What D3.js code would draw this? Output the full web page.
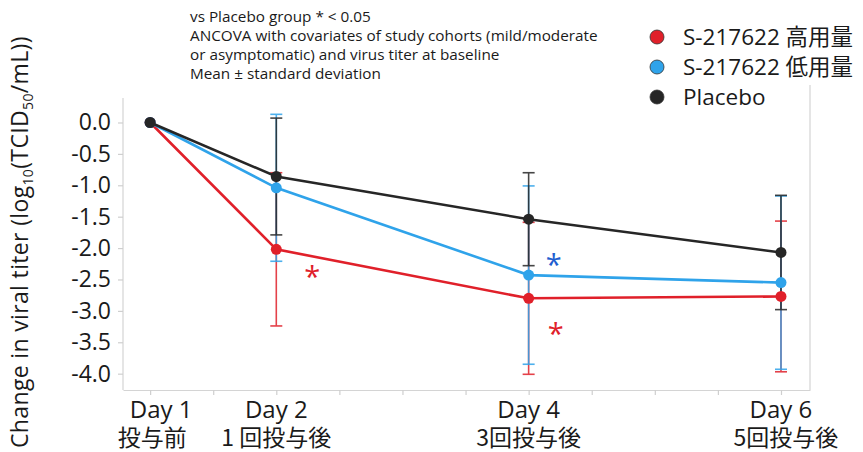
<!DOCTYPE html>
<html>
<head>
<meta charset="utf-8">
<script src="https://cdn.jsdelivr.net/npm/d3@7/dist/d3.min.js"></script>
<style>
  html, body { margin: 0; padding: 0; background: #fff; }
  svg { display: block; font-family: "Open Sans", "Noto Sans", "Noto Sans CJK JP", sans-serif; }
</style>
</head>
<body>
<svg id="chart" width="863" height="452"></svg>
<script>
// Study days and the dosing label under each
const days = [1, 2, 4, 6];
const dayLabels = ["Day 1", "Day 2", "Day 4", "Day 6"];
const doseLabels = ["投与前", "1 回投与後", "3回投与後", "5回投与後"];

// Mean change from baseline and standard deviation per arm
const highMean = [0, -2.02, -2.80, -2.77];
const highSD   = [0, 1.22, 1.21, 1.20];
const lowMean  = [0, -1.04, -2.43, -2.55];
const lowSD    = [0, 1.17, 1.42, 1.38];
const placMean = [0, -0.86, -1.54, -2.07];
const placSD   = [0, 0.93, 0.74, 0.91];

const seriesNames = ["S-217622 高用量", "S-217622 低用量", "Placebo"];
const yTicks = [0, -0.5, -1, -1.5, -2, -2.5, -3, -3.5, -4];
const xTicks = [1, 1.5, 2, 2.5, 3, 3.5, 4, 4.5, 5, 5.5, 6];

const notes = [
  "vs Placebo group * < 0.05",
  "ANCOVA with covariates of study cohorts (mild/moderate",
  "or asymptomatic) and virus titer at baseline",
  "Mean ± standard deviation"
];

const colors = ["#e0202a", "#2fa3ea", "#262626"];

const series = [
  { name: seriesNames[0], mean: highMean, sd: highSD, color: colors[0] },
  { name: seriesNames[1], mean: lowMean,  sd: lowSD,  color: colors[1] },
  { name: seriesNames[2], mean: placMean, sd: placSD, color: colors[2] }
];

const svg = d3.select("#chart");

const x = d3.scaleLinear().domain([0.785, 6.23]).range([123, 810]);
const y = d3.scaleLinear().domain([-4.26, 0.39]).range([390, 98]);

// frame: left axis, right edge
const frame = svg.append("g").attr("stroke", "#d4d4d4").attr("stroke-width", 1.2);
frame.append("line").attr("x1", 123).attr("x2", 123).attr("y1", y.range()[1]).attr("y2", 390);
frame.append("line").attr("x1", 810).attr("x2", 810).attr("y1", 85).attr("y2", 390);

// x axis with half-day ticks
const xAxis = svg.append("g").attr("transform", "translate(0,390)")
  .call(d3.axisBottom(x).tickValues(xTicks).tickSize(5).tickSizeOuter(0).tickFormat(""));
xAxis.select(".domain").attr("stroke", "#d4d4d4").attr("stroke-width", 1.2);
xAxis.selectAll(".tick line").attr("stroke", "#cfcfcf").attr("stroke-width", 1.2);

// y axis
const yAxis = svg.append("g").attr("transform", "translate(123,0)")
  .call(d3.axisLeft(y).tickValues(yTicks).tickSize(5).tickSizeOuter(0).tickFormat(d3.format(".1f")));
yAxis.select(".domain").remove();
yAxis.selectAll(".tick line").attr("stroke", "#cfcfcf").attr("stroke-width", 1.2);
yAxis.selectAll(".tick text")
  .attr("x", -12)
  .attr("font-size", 23)
  .attr("fill", "#1a1a1a")
  .attr("font-family", "Open Sans, sans-serif")
  .text(d => d3.format(".1f")(d).replace("−", "-"));

// y axis title with subscripts
const yTitle = svg.append("text")
  .attr("transform", "translate(28,448) rotate(-90)")
  .attr("font-size", 23)
  .attr("letter-spacing", 0.35)
  .attr("fill", "#1a1a1a");
yTitle.append("tspan").text("Change in viral titer (log");
yTitle.append("tspan").attr("font-size", 14).attr("dy", 5).text("10");
yTitle.append("tspan").attr("dy", -5).text("(TCID");
yTitle.append("tspan").attr("font-size", 14).attr("dy", 5).text("50");
yTitle.append("tspan").attr("dy", -5).text("/mL))");

// category labels
const xl = svg.append("g").attr("fill", "#1a1a1a").attr("text-anchor", "middle");
days.forEach((d, i) => {
  xl.append("text").attr("x", x(d) + (i === 0 ? 11 : 0)).attr("y", 418)
    .attr("font-size", 24).text(dayLabels[i]);
  xl.append("text").attr("x", x(d) + (i === 0 ? 2 : 0) + (i === 3 ? 5 : 0)).attr("y", 446)
    .attr("font-size", 23)
    .attr("font-family", "Noto Sans CJK JP, sans-serif")
    .text(doseLabels[i]);
});

// error bars (skip baseline where SD is zero)
const cap = 6;
series.forEach(s => {
  const g = svg.append("g").attr("stroke", s.color).attr("stroke-width", 1.6).attr("opacity", 0.85);
  days.forEach((d, i) => {
    if (s.sd[i] === 0) return;
    const top = y(s.mean[i] + s.sd[i]), bot = y(s.mean[i] - s.sd[i]), cx = x(d);
    g.append("line").attr("x1", cx).attr("x2", cx).attr("y1", top).attr("y2", bot);
    g.append("line").attr("x1", cx - cap).attr("x2", cx + cap).attr("y1", top).attr("y2", top);
    g.append("line").attr("x1", cx - cap).attr("x2", cx + cap).attr("y1", bot).attr("y2", bot);
  });
});

// mean lines and markers
const line = d3.line().x(d => x(d[0])).y(d => y(d[1]));
series.forEach(s => {
  const pts = days.map((d, i) => [d, s.mean[i]]);
  svg.append("path").datum(pts).attr("d", line)
    .attr("fill", "none").attr("stroke", s.color).attr("stroke-width", 2.6);
  svg.append("g").selectAll("circle").data(pts).join("circle")
    .attr("cx", d => x(d[0])).attr("cy", d => y(d[1])).attr("r", 5.5)
    .attr("fill", s.color);
});

// significance markers
const star = (d, v, dx, dy, color) => svg.append("text")
  .attr("x", x(d) + dx).attr("y", y(v) + dy)
  .attr("text-anchor", "middle").attr("font-size", 29).attr("fill", color).text("*");
star(2, highMean[1], 36, 38, "#e0202a");
star(4, lowMean[2], 25, 0, "#1f5fd0");
star(4, highMean[2], 27, 46, "#e0202a");

// notes
const nt = svg.append("g").attr("fill", "#1a1a1a").attr("font-size", 15.3);
notes.forEach((t, i) => nt.append("text").attr("x", 190).attr("y", 22 + i * 19).text(t));

// legend
const lg = svg.append("g");
series.forEach((s, i) => {
  const cy = 37 + i * 30;
  lg.append("circle").attr("cx", 657).attr("cy", cy).attr("r", 7)
    .attr("fill", s.color).attr("stroke", "#333").attr("stroke-width", 0.8);
  lg.append("text").attr("x", 683).attr("y", cy + 8).attr("font-size", 22.5)
    .attr("fill", "#1a1a1a").text(s.name);
});
</script>
</body>
</html>
